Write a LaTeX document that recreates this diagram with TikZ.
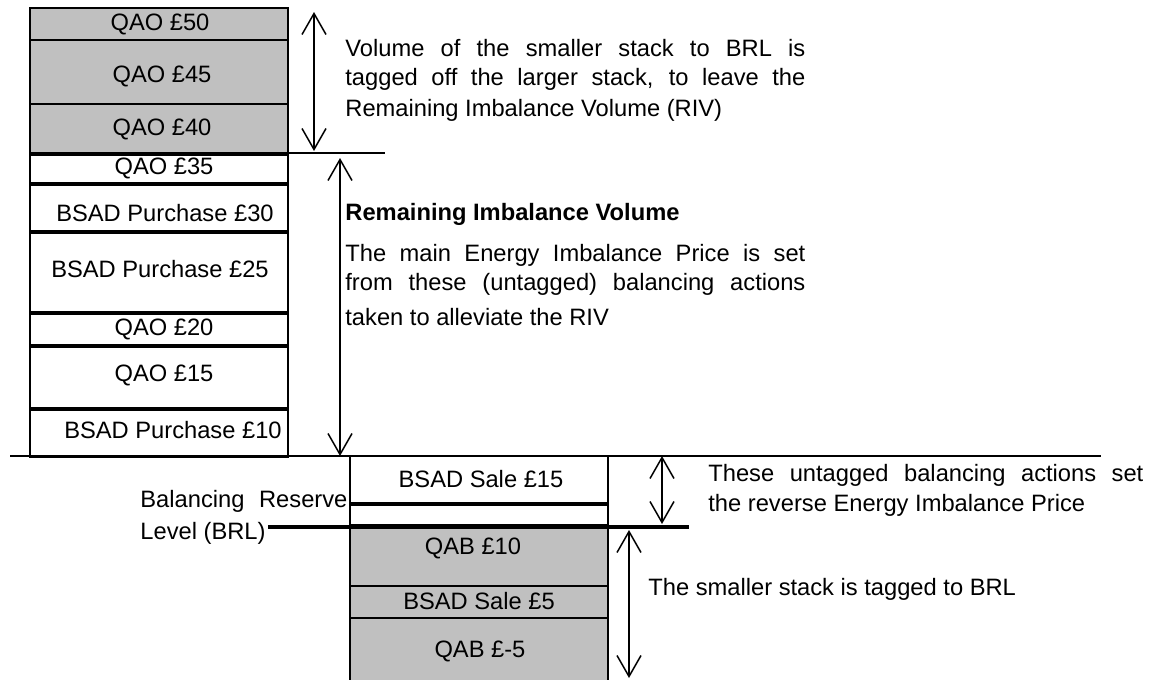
\documentclass[tikz,border=0pt]{standalone}
\usepackage{fontspec}
\setmainfont{Liberation Sans}
\usetikzlibrary{arrows.meta}
\definecolor{boxgray}{RGB}{192,192,192}
\begin{document}
\begin{tikzpicture}[x=0.5pt,y=-0.5pt,
  stk/.style={draw=black, line width=1pt},
  gbox/.style={stk, fill=boxgray},
  wbox/.style={stk, fill=white},
  lbl/.style={inner sep=0pt, anchor=base, font=\fontsize{11.85pt}{14pt}\selectfont},
  txt/.style={inner sep=0pt, anchor=base west, font=\fontsize{11.85pt}{14pt}\selectfont},
  dimarrow/.style={line width=0.75pt, {Straight Barb[length=10.5pt,width=12pt]}-{Straight Barb[length=10.5pt,width=12pt]}},
  rulel/.style={line width=0.9pt},
  brl/.style={line width=2pt}
]
\useasboundingbox (0,0) rectangle (1158,680);

% ---- left (larger) stack ----
\draw[gbox] (30,8) rectangle (288,153);
\draw[stk] (30,40) -- (288,40);
\draw[stk] (30,104) -- (288,104);
\draw[wbox] (30,155) rectangle (288,183);
\draw[wbox] (30,185) rectangle (288,231);
\draw[wbox] (30,233) rectangle (288,312);
\draw[wbox] (30,314) rectangle (288,345);
\draw[wbox] (30,347) rectangle (288,408);
\draw[wbox] (30,410) rectangle (288,457);

\node[lbl] (t50) at (160,31) {QAO £50};
\node[lbl] (t45) at (162,83) {QAO £45};
\node[lbl] (t40) at (162,135) {QAO £40};
\node[lbl] (t35) at (164,174) {QAO £35};
\node[lbl] (t30) at (165,221) {BSAD Purchase £30};
\node[lbl] (t25) at (160,277) {BSAD Purchase £25};
\node[lbl] (t20) at (164,335) {QAO £20};
\node[lbl] (t15) at (164,381) {QAO £15};
\node[lbl] (t10) at (173,438) {BSAD Purchase £10};

% ---- right (smaller) stack ----
\draw[wbox] (350,456) rectangle (608,503);
\draw[wbox] (350,505) rectangle (608,525);
\fill[boxgray] (350,527) rectangle (608,681);
\draw[stk] (350,681) -- (350,527) -- (608,527) -- (608,681);
\draw[stk] (350,586) -- (608,586);
\draw[stk] (350,618) -- (608,618);

\node[lbl] (s15) at (481,487) {BSAD Sale £15};
\node[lbl] (q10) at (473,554) {QAB £10};
\node[lbl] (s5) at (479,609) {BSAD Sale £5};
\node[lbl] (qm5) at (480,657) {QAB £-5};

% ---- rules ----
\coordinate (ha) at (10,456);
\coordinate (hb) at (1101,456);
\draw[rulel] (ha) -- (hb);
\coordinate (ta) at (288,153);
\coordinate (tb) at (385,153);
\draw[rulel] (ta) -- (tb);
\coordinate (ba) at (268,527);
\coordinate (bb) at (689,527);
\draw[brl] (ba) -- (bb);

% ---- dimension arrows ----
\coordinate (a1t) at (314,12);
\coordinate (a1b) at (314,151);
\draw[dimarrow] (a1t) -- (a1b);
\coordinate (a2t) at (340,158);
\coordinate (a2b) at (340,456);
\draw[dimarrow] (a2t) -- (a2b);
\coordinate (a3t) at (662,456);
\coordinate (a3b) at (662,524);
\draw[dimarrow] (a3t) -- (a3b);
\coordinate (a4t) at (629,530);
\coordinate (a4b) at (629,678);
\draw[dimarrow] (a4t) -- (a4b);

% ---- texts ----
\node[txt] (v1) at (345,56) {\makebox[230pt][s]{Volume of the smaller stack to BRL is}};
\node[txt] (v2) at (345,85) {\makebox[230pt][s]{tagged off the larger stack, to leave the}};
\node[txt] (v3) at (345,116) {Remaining Imbalance Volume (RIV)};

\node[txt] (r0) at (345,220) {\bfseries Remaining Imbalance Volume};
\node[txt] (r1) at (345,261) {\makebox[230pt][s]{The main Energy Imbalance Price is set}};
\node[txt] (r2) at (345,290) {\makebox[230pt][s]{from these (untagged) balancing actions}};
\node[txt] (r3) at (345,325) {taken to alleviate the RIV};

\node[txt] (u1) at (708,481) {\makebox[217.5pt][s]{These untagged balancing actions set}};
\node[txt] (u2) at (708,511) {the reverse Energy Imbalance Price};

\node[txt] (sm) at (648,595) {The smaller stack is tagged to BRL};

\node[txt] (b1) at (140,507) {\makebox[103.5pt][s]{Balancing Reserve}};
\node[txt] (b2) at (140,539) {Level (BRL)};
\end{tikzpicture}
\end{document}
